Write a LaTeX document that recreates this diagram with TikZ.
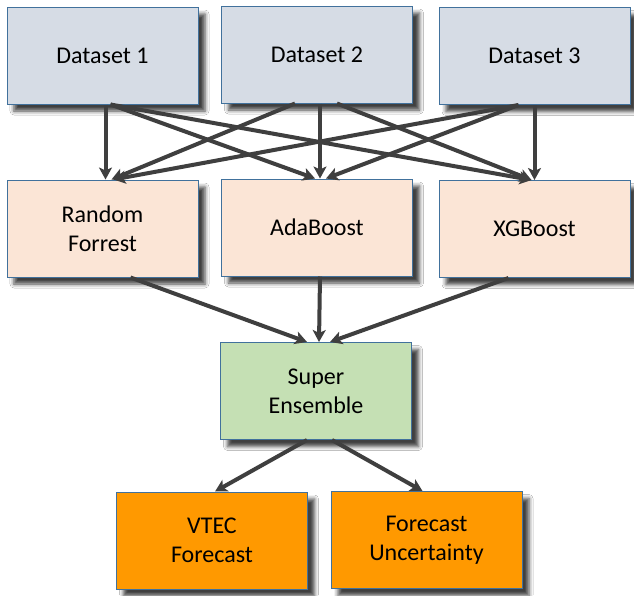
\documentclass[tikz,border=0pt]{standalone}
\usepackage{fontspec}
\setmainfont{Carlito}
\usetikzlibrary{arrows.meta,shadows.blur}
\definecolor{dsfill}{HTML}{D6DCE5}
\definecolor{mdfill}{HTML}{FBE5D6}
\definecolor{sefill}{HTML}{C5E0B4}
\definecolor{outfill}{HTML}{FF9900}
\definecolor{boxline}{HTML}{41719C}
\definecolor{arrowcol}{HTML}{3F3F3F}
\tikzset{
  box/.style={draw=boxline, line width=1pt, minimum width=#1, minimum height=97pt,
    align=center, font=\fontsize{24}{29}\selectfont, inner sep=0pt,
    blur shadow={shadow xshift=7pt, shadow yshift=-7pt, shadow blur radius=4pt, shadow opacity=75}},
  box/.default=191pt,
  dsbox/.style={box, fill=dsfill},
  mdbox/.style={box, fill=mdfill},
  sebox/.style={box, fill=sefill},
  outbox/.style={box, fill=outfill},
  link/.style={draw=arrowcol, line width=4pt, -{Stealth[length=12pt,width=13pt,inset=3pt]}},
}
\begin{document}
\begin{tikzpicture}[x=1pt,y=-1pt]
\useasboundingbox (0,0) rectangle (634,595);
\fill[white] (0,0) rectangle (634,595);
% inputs
\node[dsbox] (d1) at (102.5,55.5) {Dataset 1};
\node[dsbox] (d2) at (317,54.5) {Dataset 2};
\node[dsbox] (d3) at (534.5,56) {Dataset 3};
% base learners
\node[mdbox] (rf) at (102.5,228.5) {Random\\Forrest};
\node[mdbox] (ab) at (317,227.5) {AdaBoost};
\node[mdbox] (xg) at (534.5,229) {XGBoost};
% combination
\node[sebox] (se) at (316,391) {Super\\Ensemble};
% outputs
\node[outbox] (vt) at (212,540.5) {VTEC\\Forecast};
\node[outbox] (fu) at (426.5,540) {Forecast\\Uncertainty};

% datasets to models
\draw[link] ([xshift=3pt]d1.south) -- ([xshift=3pt]rf.north);
\draw[link] ([xshift=8pt]d1.south) -- ([xshift=-2pt]ab.north);
\draw[link] ([xshift=8pt]d1.south) -- ([xshift=-3pt]xg.north);
\draw[link] ([xshift=-22pt]d2.south) -- ([xshift=9pt]rf.north);
\draw[link] ([xshift=3pt]d2.south) -- ([xshift=3pt]ab.north);
\draw[link] ([xshift=20pt]d2.south) -- ([xshift=-3pt]xg.north);
\draw[link] ([xshift=-16pt]d3.south) -- ([xshift=11pt]rf.north);
\draw[link] ([xshift=-16pt]d3.south) -- ([xshift=9pt]ab.north);
\draw[link] ([xshift=0pt]d3.south) -- ([xshift=0pt]xg.north);
% models to super ensemble
\draw[link] ([xshift=28pt]rf.south) -- ([xshift=-9pt]se.north);
\draw[link] ([xshift=3pt]ab.south) -- ([xshift=3pt]se.north);
\draw[link] ([xshift=-26pt]xg.south) -- ([xshift=14pt]se.north);
% super ensemble to outputs
\draw[link] ([xshift=-9pt]se.south) -- ([xshift=3pt]vt.north);
\draw[link] ([xshift=16pt]se.south) -- ([xshift=-4pt]fu.north);
\end{tikzpicture}
\end{document}
